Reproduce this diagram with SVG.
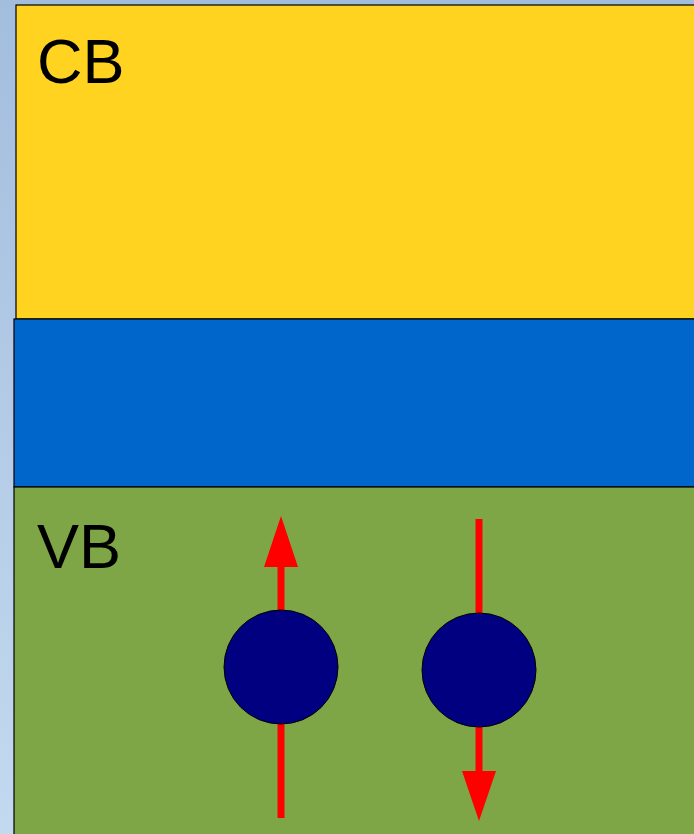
<svg xmlns="http://www.w3.org/2000/svg" width="694" height="834" viewBox="0 0 694 834">
<defs>
<linearGradient id="bg" x1="0" y1="0" x2="0" y2="1">
<stop offset="0" stop-color="#a3bddd"/>
<stop offset="1" stop-color="#c3d9f0"/>
</linearGradient>
<style>
.band{stroke:#000;stroke-width:1.2}
.lbl{font-family:"Liberation Sans",Arial,sans-serif;font-size:63px;fill:#000}
.shaft{stroke:#ff0000;stroke-width:7;fill:none}
.head{fill:#ff0000}
.carrier{fill:#000080;stroke:#000;stroke-width:1}
</style>
</defs>
<rect x="0" y="0" width="694" height="834" fill="url(#bg)"/>
<g id="cb">
<rect class="band" x="16" y="5" width="690" height="314" fill="#ffd320"/>
<text class="lbl" x="37" y="83">CB</text>
</g>
<g id="gap">
<rect class="band" x="14" y="319" width="690" height="168" fill="#0066cc"/>
</g>
<g id="vb">
<rect class="band" x="14" y="487" width="690" height="360" fill="#7ea646"/>
<text class="lbl" x="37" y="568">VB</text>
</g>
<g id="connectors">
<line class="shaft" x1="281" y1="818" x2="281" y2="564"/>
<polygon class="head" points="264,567 298,567 281,516"/>
<line class="shaft" x1="479" y1="519" x2="479" y2="773"/>
<polygon class="head" points="462,771 496,771 479,821"/>
</g>
<g id="hole">
<circle class="carrier" cx="281" cy="667" r="57"/>
</g>
<g id="electron">
<circle class="carrier" cx="479" cy="670" r="57"/>
</g>
</svg>
